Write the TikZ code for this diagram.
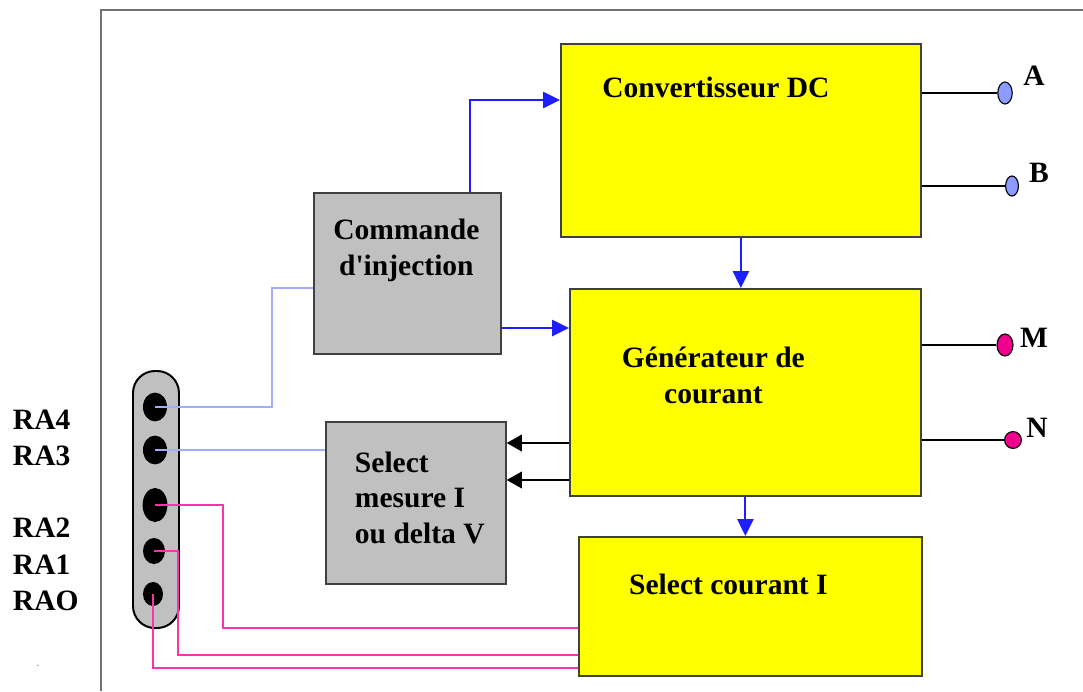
\documentclass[tikz,border=0pt]{standalone}
\usepackage{fontspec}
\setmainfont{Liberation Serif}
\usetikzlibrary{shapes.geometric, arrows.meta, positioning}

\definecolor{boxyellow}{RGB}{255,255,0}
\definecolor{boxgray}{RGB}{192,192,192}
\definecolor{flowblue}{RGB}{30,30,255}
\definecolor{wireblue}{RGB}{165,172,255}
\definecolor{wirepink}{RGB}{255,50,170}
\definecolor{termblue}{RGB}{140,155,255}
\definecolor{termpink}{RGB}{240,0,140}

\begin{document}
\begin{tikzpicture}[x=0.025cm, y=-0.025cm]
    \tikzstyle{block} = [
        rectangle, draw=black!75, line width=1.2pt, fill=boxyellow,
        anchor=north west, inner sep=0pt
    ]

    \tikzstyle{ctrl} = [block, fill=boxgray]

    \tikzstyle{txt} = [font=\bfseries\fontsize{21}{25.5}\selectfont, align=center]

    \tikzstyle{pin} = [ellipse, fill=black, inner sep=0pt]

    \tikzstyle{term} = [
        ellipse, draw=black, line width=0.8pt, inner sep=0pt,
        minimum width=0.36cm, minimum height=0.55cm
    ]

    \tikzstyle{flow} = [
        draw=flowblue, line width=1.4pt,
        -{Triangle[length=0.42cm, width=0.4cm]}
    ]
    \tikzstyle{sig} = [
        draw=black, line width=1pt,
        -{Triangle[length=0.38cm, width=0.42cm]}
    ]
    \tikzstyle{wire} = [draw=black, line width=1pt]
    \tikzstyle{bluewire} = [draw=wireblue, line width=1.4pt]
    \tikzstyle{pinkwire} = [draw=wirepink, line width=1.4pt]

    \useasboundingbox (0,0) rectangle (1083,691);

    % Frame
    \draw[black!55, line width=1.6pt] (101,691) -- (101,10) -- (1083,10);

    % Blocks
    \node[block, minimum width=9cm, minimum height=4.825cm] (conv) at (560,43) {};
    \node[block, minimum width=8.775cm, minimum height=5.175cm] (gen) at (569,288) {};
    \node[block, minimum width=8.575cm, minimum height=3.475cm] (selc) at (578,536) {};
    \node[ctrl, minimum width=4.675cm, minimum height=4.025cm] (cmd) at (313,192) {};
    \node[ctrl, minimum width=4.5cm, minimum height=4.05cm] (selm) at (325,421) {};

    % Block texts
    \node[txt] (conv_txt) at ([shift={(-25,44)}]conv.north) {Convertisseur DC};
    \node[txt] (gen_txt) at ([shift={(-32,-17)}]gen.center) {Générateur de\\courant};
    \node[txt] (selc_txt) at ([shift={(-22,-22)}]selc.center) {Select courant I};
    \node[txt] (cmd_txt) at ([shift={(-1,-23)}]cmd.center) {Commande\\d\textquotesingle injection};
    \node[txt, align=left, anchor=west] (selm_txt) at ([shift={(25,-5)}]selm.west)
        {Select\\mesure I\\ou delta V};

    % Plug
    \node[rectangle, rounded corners=0.55cm, draw, line width=1.4pt, fill=boxgray,
        minimum width=1.15cm, minimum height=6.425cm, anchor=north west] (plug) at (132,370) {};
    \node[pin, minimum width=0.6cm, minimum height=0.72cm] (pin4) at (155,407) {};
    \node[pin, minimum width=0.6cm, minimum height=0.72cm] (pin3) at (155,450) {};
    \node[pin, minimum width=0.62cm, minimum height=0.85cm] (pin2) at (155,505) {};
    \node[pin, minimum width=0.55cm, minimum height=0.65cm] (pin1) at (154,551) {};
    \node[pin, minimum width=0.5cm, minimum height=0.6cm] (pin0) at (153,594) {};

    % Plug labels
    \node[txt, anchor=west] (ra4) at (8,420) {RA4};
    \node[txt, anchor=west] (ra3) at (8,456) {RA3};
    \node[txt, anchor=west] (ra2) at (8,528) {RA2};
    \node[txt, anchor=west] (ra1) at (8,565) {RA1};
    \node[txt, anchor=west] (ra0) at (8,601) {RAO};
    \node[gray, font=\small] (dot) at (38,666) {.};

    % Blue flow arrows
    \draw[flow] ([xshift=-0.8cm]cmd.north east) |- (conv.west |- 0,100);
    \draw[flow] (cmd.east |- 0,328) -- (gen.west |- 0,328);
    \draw[flow] (conv.south) -- (conv.south |- gen.north);
    \draw[flow] (gen.south) -- (gen.south |- selc.north);

    % Measure arrows
    \draw[sig] (gen.west |- 0,443) -- (selm.east |- 0,443);
    \draw[sig] (gen.west |- 0,480) -- (selm.east |- 0,480);

    % Plug wires
    \draw[bluewire] (pin4.center) -- (pin4.center -| 272,0) |- (cmd.west |- 0,288);
    \draw[bluewire] (pin3.center) -- (pin3.center -| selm.west);
    \draw[pinkwire] (pin2.center) -- (pin2.center -| 223,0) |- (selc.west |- 0,628);
    \draw[pinkwire] (pin1.center) -- (pin1.center -| 178,0) |- (selc.west |- 0,655);
    \draw[pinkwire] (pin0.center) |- (selc.west |- 0,668);

    % Terminals
    \node[term, fill=termblue] (term_a) at (1005,93) {};
    \node[term, fill=termblue, minimum width=0.32cm, minimum height=0.5cm] (term_b) at (1012,186) {};
    \node[term, fill=termpink, minimum width=0.4cm] (term_m) at (1005,345) {};
    \node[term, fill=termpink, minimum width=0.42cm, minimum height=0.42cm] (term_n) at (1013,440) {};

    \draw[wire] (conv.east |- term_a) -- (term_a);
    \draw[wire] (conv.east |- term_b) -- (term_b);
    \draw[wire] (gen.east |- term_m) -- (term_m);
    \draw[wire] (gen.east |- term_n) -- (term_n);

    \node[txt] (lbl_a) at (1034,76) {A};
    \node[txt] (lbl_b) at (1039,173) {B};
    \node[txt] (lbl_m) at (1034,338) {M};
    \node[txt] (lbl_n) at (1037,428) {N};

\end{tikzpicture}
\end{document}
